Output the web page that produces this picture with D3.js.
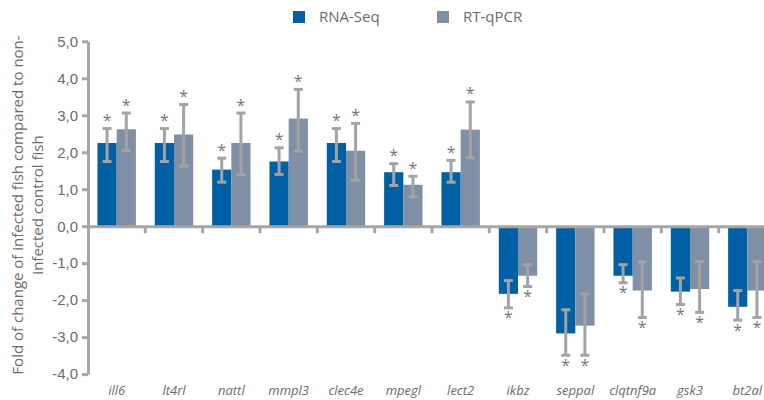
<!DOCTYPE html>
<html><head><meta charset="utf-8">
<script src="https://cdn.jsdelivr.net/npm/d3@7"></script>
<style>body{margin:0;background:#fff}svg{display:block;font-family:"Open Sans",sans-serif}</style>
</head><body><svg id="c" width="764" height="400"></svg>
<script>
const categories = ["ill6","lt4rl","nattl","mmpl3","clec4e","mpegl","lect2","ikbz","seppal","clqtnf9a","gsk3","bt2al"];
const seriesNames = ["RNA-Seq","RT-qPCR"];
const rnaSeq      = [2.25, 2.25, 1.53, 1.75, 2.25, 1.46, 1.46, -1.83, -2.90, -1.34, -1.77, -2.18];
const rnaSeqHigh  = [2.64, 2.64, 1.84, 2.12, 2.64, 1.69, 1.78, -1.47, -2.26, -1.04, -1.40, -1.74];
const rnaSeqLow   = [1.75, 1.75, 1.19, 1.40, 1.75, 1.10, 1.19, -2.21, -3.49, -1.53, -2.12, -2.54];
const rtqpcr      = [2.62, 2.48, 2.25, 2.91, 2.04, 1.12, 2.61, -1.34, -2.69, -1.74, -1.70, -1.74];
const rtqpcrHigh  = [3.06, 3.29, 3.06, 3.70, 2.78, 1.35, 3.36, -1.04, -1.83, -0.96, -0.96, -0.96];
const rtqpcrLow   = [2.05, 1.62, 1.40, 2.03, 1.24, 0.79, 1.85, -1.63, -3.49, -2.47, -2.33, -2.47];
const yTicks = [5,4,3,2,1,0,-1,-2,-3,-4];

const colors = ["#0060a6","#7e8fa6"];
const svg = d3.select("#c");
const x = d3.scaleBand().domain(categories).range([88, 776]).paddingInner(0).paddingOuter(0);
const y = d3.scaleLinear().domain([-4,5]).range([374.1, 41.3]);
const sub = d3.scaleBand().domain([0,1]).range([x.bandwidth()*0.165, x.bandwidth()*0.835]);
const fmt = v => d3.format(".1f")(v).replace(".", ",").replace("−","-");

const series = [
  {vals: rnaSeq, hi: rnaSeqHigh, lo: rnaSeqLow},
  {vals: rtqpcr, hi: rtqpcrHigh, lo: rtqpcrLow}
];

// bars
series.forEach((s, si) => {
  svg.append("g").selectAll("rect").data(categories).join("rect")
    .attr("x", (c) => x(c) + sub(si))
    .attr("width", sub.bandwidth())
    .attr("y", (c,i) => y(Math.max(0, s.vals[i])))
    .attr("height", (c,i) => Math.abs(y(s.vals[i]) - y(0)))
    .attr("fill", colors[si]);
});

// y axis
const yAxis = svg.append("g").attr("transform","translate(88,0)")
  .call(d3.axisLeft(y).tickValues(yTicks).tickFormat(fmt).tickSize(6).tickSizeOuter(0));
yAxis.select(".domain").attr("stroke","#a6a6a6").attr("stroke-width",3);
yAxis.selectAll(".tick line").attr("stroke","#a6a6a6").attr("stroke-width",3);
yAxis.selectAll(".tick text").attr("fill","#6b6b6b").attr("font-size",15).attr("x",-10);

// x axis at zero
const xAxis = svg.append("g").attr("transform",`translate(0,${y(0)})`)
  .call(d3.axisBottom(x).tickSize(0).tickFormat(""));
xAxis.select(".domain").attr("stroke","#a6a6a6").attr("stroke-width",3);
svg.append("g").selectAll("line").data(categories.slice(1)).join("line")
  .attr("x1", c => x(c)).attr("x2", c => x(c))
  .attr("y1", y(0)).attr("y2", y(0)+7)
  .attr("stroke","#a6a6a6").attr("stroke-width",3);

// x labels
svg.append("g").selectAll("text").data(categories).join("text")
  .attr("x", c => x(c) + x.bandwidth()/2).attr("y", 395)
  .attr("text-anchor","middle").attr("font-style","italic")
  .attr("font-size",13).attr("fill","#6b6b6b").text(c => c);

// error bars + asterisks
series.forEach((s, si) => {
  const g = svg.append("g").attr("stroke","#a3a3a3").attr("stroke-width",3);
  categories.forEach((c,i) => {
    const cx = x(c) + sub(si) + sub.bandwidth()/2;
    g.append("line").attr("x1",cx).attr("x2",cx).attr("y1",y(s.hi[i])).attr("y2",y(s.lo[i]));
    g.append("line").attr("x1",cx-4.5).attr("x2",cx+4.5).attr("y1",y(s.hi[i])).attr("y2",y(s.hi[i]));
    g.append("line").attr("x1",cx-4.5).attr("x2",cx+4.5).attr("y1",y(s.lo[i])).attr("y2",y(s.lo[i]));
    const pos = s.vals[i] >= 0;
    svg.append("text").attr("x",cx).attr("y", pos ? y(s.hi[i]) - 2.5 : y(s.lo[i]) + 15.5)
      .attr("text-anchor","middle").attr("font-size",16).attr("fill","#777").text("*");
  });
});

// legend
const leg = svg.append("g");
const legX = [293, 437];
seriesNames.forEach((n,i) => {
  leg.append("rect").attr("x",legX[i]).attr("y",11).attr("width",12).attr("height",12).attr("fill",colors[i]);
  leg.append("text").attr("x",legX[i]+26).attr("y",22).attr("font-size",15).attr("fill","#6b6b6b").text(n);
});

// y title
const t = svg.append("text").attr("transform","translate(0,205) rotate(-90)")
  .attr("text-anchor","middle").attr("font-size",15).attr("fill","#6b6b6b");
t.append("tspan").attr("x",0).attr("y",23).text("Fold of change of infected fish compared to non-");
t.append("tspan").attr("x",0).attr("y",43).text("infected control fish");
</script></body></html>
